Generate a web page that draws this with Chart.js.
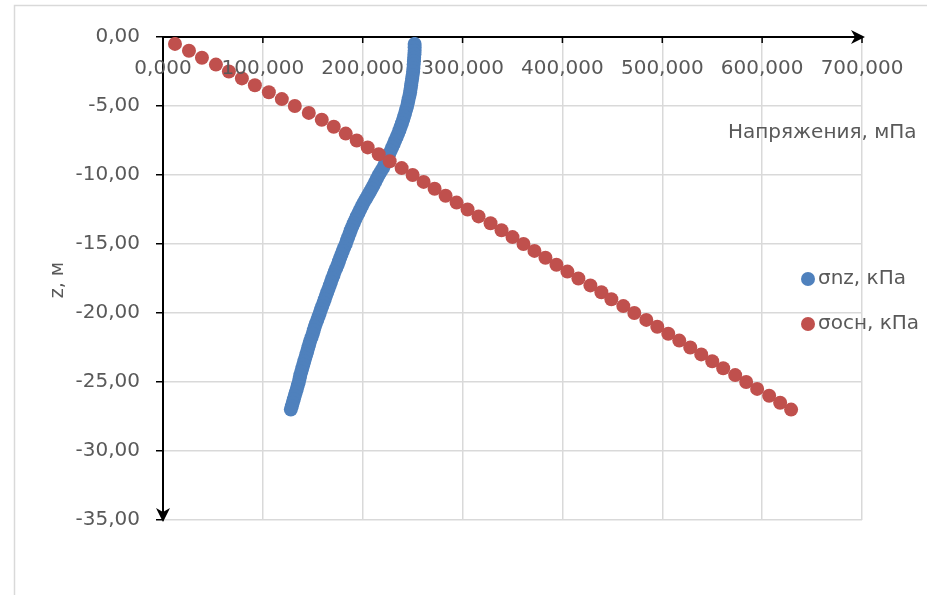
<!DOCTYPE html>
<html><head><meta charset="utf-8">
<script src="https://cdn.jsdelivr.net/npm/chart.js@4.4.1/dist/chart.umd.min.js"></script>
<style>html,body{margin:0;padding:0;background:#fff;overflow:hidden}canvas{display:block}</style>
</head><body>
<canvas id="c" width="927" height="595"></canvas>
<script>
// depth values as plotted (m, negative downwards)
const zBlue = [-0.5,-0.75,-1,-1.25,-1.5,-1.75,-2,-2.25,-2.5,-2.75,-3,-3.25,-3.5,-3.75,-4,-4.25,-4.5,-4.75,-5,-5.25,-5.5,-5.75,-6,-6.25,-6.5,-6.75,-7,-7.25,-7.5,-7.75,-8,-8.25,-8.5,-8.75,-9,-9.25,-9.5,-9.75,-10,-10.25,-10.5,-10.75,-11,-11.25,-11.5,-11.75,-12,-12.25,-12.5,-12.75,-13,-13.25,-13.5,-13.75,-14,-14.25,-14.5,-14.75,-15,-15.25,-15.5,-15.75,-16,-16.25,-16.5,-16.75,-17,-17.25,-17.5,-17.75,-18,-18.25,-18.5,-18.75,-19,-19.25,-19.5,-19.75,-20,-20.25,-20.5,-20.75,-21,-21.25,-21.5,-21.75,-22,-22.25,-22.5,-22.75,-23,-23.25,-23.5,-23.75,-24,-24.25,-24.5,-24.75,-25,-25.25,-25.5,-25.75,-26,-26.25,-26.5,-26.75,-27];
const sigmaNz = [252,252,252,251.8,251.5,251.3,251,250.8,250.5,250,249.5,249,248.5,248,247.5,246.8,246,245.3,244.5,243.5,242.5,241.5,240.5,239.3,238,236.8,235.5,234,232.5,231,229.5,228,226.5,225,223.5,222,220.3,218.2,216,214.3,212.5,210.8,209,207,205,203,201,199.2,197.5,195.8,194,192.5,191,189.5,188,186.8,185.5,184.2,183,181.5,180,178.8,177.5,176.2,175,173.5,172,170.8,169.5,168.2,167,165.8,164.5,163.2,162,160.8,159.5,158.2,157,155.8,154.5,153.2,152,151,150,148.8,147.5,146.5,145.5,144.5,143.5,142.5,141.5,140.5,139.5,138.5,137.5,136.8,136,135,134,133,132,131,130,129,128];
const zRed = [-0.5,-1,-1.5,-2,-2.5,-3,-3.5,-4,-4.5,-5,-5.5,-6,-6.5,-7,-7.5,-8,-8.5,-9,-9.5,-10,-10.5,-11,-11.5,-12,-12.5,-13,-13.5,-14,-14.5,-15,-15.5,-16,-16.5,-17,-17.5,-18,-18.5,-19,-19.5,-20,-20.5,-21,-21.5,-22,-22.5,-23,-23.5,-24,-24.5,-25,-25.5,-26,-26.5,-27];
const sigmaOsn = [12,26,39,53,66,79,92,106,119,132,146,159,171,183,194,205,216,227,239,250,261,272,283,294,305,316,328,339,350,361,372,383,394,405,416,428,439,449,461,472,484,495,506,517,528,539,550,561,573,584,595,607,618,629];
const seriesNames = ['σnz, кПа', 'σосн, кПа'];
const xTitle = 'Напряжения, мПа';
const yTitle = 'z, м';
const xRange = [0, 700, 100];
const yRange = [-35, 0, 5];

const FONT = 'DejaVu Sans';
const TXT = '#595959';
const fmtX = v => Number(v).toFixed(3).replace('.', ',');
const fmtY = v => Number(v).toFixed(2).replace('.', ',');

const deco = {
  id: 'deco',
  beforeDraw(chart) {
    const c = chart.ctx;
    c.save();
    c.fillStyle = '#fff';
    c.fillRect(0, 0, chart.width, chart.height);
    c.strokeStyle = '#d9d9d9';
    c.lineWidth = 1.5;
    c.beginPath();
    c.moveTo(14.5, chart.height);
    c.lineTo(14.5, 5.5);
    c.lineTo(chart.width, 5.5);
    c.stroke();
    c.restore();
  },
  afterDraw(chart) {
    const c = chart.ctx, a = chart.chartArea, xs = chart.scales.x;
    c.save();
    // inside tick marks and labels of the top x axis
    c.strokeStyle = '#000';
    c.lineWidth = 1.5;
    c.fillStyle = TXT;
    c.font = '20px "' + FONT + '"';
    c.textAlign = 'center';
    c.textBaseline = 'middle';
    xs.ticks.forEach(t => {
      const px = xs.getPixelForValue(t.value);
      c.beginPath(); c.moveTo(px, a.top); c.lineTo(px, a.top + 6); c.stroke();
      c.fillText(fmtX(t.value), px, a.top + 32);
    });
    // arrows
    c.fillStyle = '#000';
    c.beginPath();
    c.moveTo(a.right + 3, a.top); c.lineTo(a.right - 11, a.top - 7); c.lineTo(a.right - 7, a.top); c.lineTo(a.right - 11, a.top + 7); c.closePath(); c.fill();
    c.beginPath();
    c.moveTo(a.left, a.bottom + 2); c.lineTo(a.left - 7, a.bottom - 12); c.lineTo(a.left, a.bottom - 8); c.lineTo(a.left + 7, a.bottom - 12); c.closePath(); c.fill();
    // titles
    c.fillStyle = TXT;
    c.textAlign = 'left';
    c.font = '20px "' + FONT + '"';
    c.fillText(xTitle, 728, 133);
    c.save();
    c.translate(58, 280);
    c.rotate(-Math.PI / 2);
    c.textAlign = 'center';
    c.font = '19px "' + FONT + '"';
    c.fillText(yTitle, 0, 0);
    c.restore();
    // legend
    const legY = [279, 324];
    chart.data.datasets.forEach((ds, i) => {
      c.fillStyle = ds.backgroundColor;
      c.beginPath(); c.arc(808, legY[i], 7, 0, Math.PI * 2); c.fill();
      c.fillStyle = TXT;
      c.font = '20px "' + FONT + '"';
      c.textAlign = 'left';
      c.fillText(ds.label, 818, legY[i]);
    });
    c.restore();
  }
};

new Chart(document.getElementById('c'), {
  type: 'scatter',
  data: {
    datasets: [
      { label: seriesNames[0], data: sigmaNz.map((v, i) => ({ x: v, y: zBlue[i] })),
        backgroundColor: '#4F81BD', borderWidth: 0, pointRadius: 7, pointHoverRadius: 7, order: 1 },
      { label: seriesNames[1], data: sigmaOsn.map((v, i) => ({ x: v, y: zRed[i] })),
        backgroundColor: '#C0504D', borderWidth: 0, pointRadius: 7, pointHoverRadius: 7, order: 0 }
    ]
  },
  options: {
    responsive: false,
    animation: false,
    devicePixelRatio: 1,
    layout: { padding: { left: 0, top: 0, right: 65, bottom: 75 } },
    plugins: { legend: { display: false }, tooltip: { enabled: false } },
    scales: {
      x: {
        type: 'linear', position: 'top',
        min: xRange[0], max: xRange[1],
        ticks: { display: false, stepSize: xRange[2] },
        grid: { color: '#d9d9d9', lineWidth: 1.5, drawTicks: false },
        border: { color: '#000', width: 2 },
        afterFit: s => { s.height = 37; }
      },
      y: {
        type: 'linear', position: 'left',
        min: yRange[0], max: yRange[1],
        ticks: { stepSize: yRange[2], padding: 16, color: TXT, font: { family: FONT, size: 20 }, callback: v => fmtY(v) },
        grid: { color: '#d9d9d9', lineWidth: 1.5, tickLength: 7, tickColor: '#000', tickWidth: 1.5 },
        border: { color: '#000', width: 2 },
        afterFit: s => { s.width = 163; }
      }
    }
  },
  plugins: [deco]
});
</script>
</body></html>
